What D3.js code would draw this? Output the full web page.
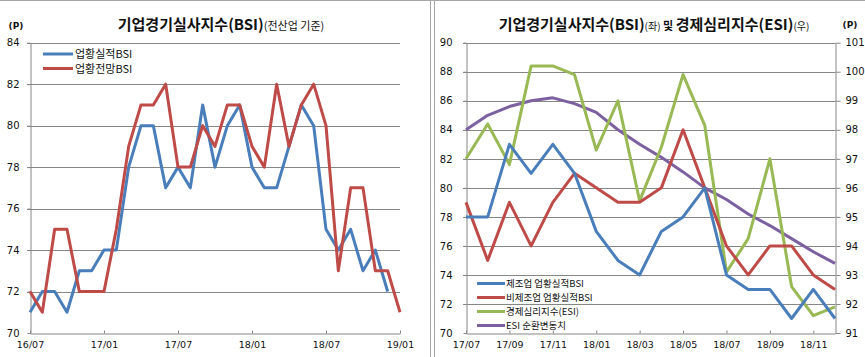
<!DOCTYPE html>
<html><head><meta charset="utf-8">
<script src="https://cdn.jsdelivr.net/npm/d3@7"></script>
<style>
html,body{margin:0;padding:0;background:#fff;}
svg{display:block;}
text{font-family:"DejaVu Sans",sans-serif;fill:#111;}
.kr{font-family:"Noto Sans CJK KR","Noto Sans",sans-serif;}
</style></head>
<body>
<svg id="c" width="865" height="357"></svg>
<script>
// ---------- Left chart data (monthly, 16/07 .. 19/01) ----------
const leftMonths = ["16/07","16/08","16/09","16/10","16/11","16/12","17/01","17/02","17/03","17/04","17/05","17/06","17/07","17/08","17/09","17/10","17/11","17/12","18/01","18/02","18/03","18/04","18/05","18/06","18/07","18/08","18/09","18/10","18/11","18/12","19/01"];
const bsiActual   = [71,72,72,71,73,73,74,74,78,80,80,77,78,77,81,78,80,81,78,77,77,79,81,80,75,74,75,73,74,72];
const bsiOutlook  = [72,71,75,75,72,72,72,75,79,81,81,82,78,78,80,79,81,81,79,78,82,79,81,82,80,73,77,77,73,73,71];
const leftTickLabels = ["16/07","17/01","17/07","18/01","18/07","19/01"];
const leftYTicks = [70,72,74,76,78,80,82,84];

// ---------- Right chart data (monthly, 17/07 .. 18/12) ----------
const rightMonths = ["17/07","17/08","17/09","17/10","17/11","17/12","18/01","18/02","18/03","18/04","18/05","18/06","18/07","18/08","18/09","18/10","18/11","18/12"];
const mfgBSI    = [78,78,83,81,83,81,77,75,74,77,78,80,74,73,73,71,73,71];
const nonMfgBSI = [79,75,79,76,79,81,80,79,79,80,84,80,76,74,76,76,74,73];
const esi       = [97.0,98.2,96.8,100.2,100.2,99.9,97.3,99.0,95.55,97.4,99.9,98.15,93.1,94.25,97.0,92.6,91.6,91.9];
const esiCycle  = [98.0,98.5,98.8,99.0,99.1,98.9,98.6,98.0,97.5,97.05,96.55,96.0,95.6,95.1,94.7,94.25,93.8,93.4];
const rightTickLabels = ["17/07","17/09","17/11","18/01","18/03","18/05","18/07","18/09","18/11"];
const rightYTicks = [70,72,74,76,78,80,82,84,86,88,90];
const rightY2Ticks = [91,92,93,94,95,96,97,98,99,100,101];

const C = {blue:"#4A7EBB", red:"#BE4B48", green:"#98B954", purple:"#7D60A0", grid:"#868686", frame:"#a6a6a6"};

const svg = d3.select("#c");

// panel frames
svg.append("line").attr("x1",0).attr("x2",865).attr("y1",0.5).attr("y2",0.5).attr("stroke",C.frame);
svg.append("line").attr("x1",430.5).attr("x2",430.5).attr("y1",0).attr("y2",357).attr("stroke",C.frame);
svg.append("line").attr("x1",434.5).attr("x2",434.5).attr("y1",0).attr("y2",357).attr("stroke",C.frame);

// ================= LEFT CHART =================
{
  const x = d3.scaleLinear().domain([0, leftMonths.length-1]).range([30,400]);
  const y = d3.scaleLinear().domain([70,84]).range([333,42.7]);
  const g = svg.append("g");
  g.selectAll("line.grid").data(leftYTicks.filter(v=>v>70)).join("line")
    .attr("x1",27).attr("x2",400)
    .attr("y1",d=>Math.round(y(d))+0.5).attr("y2",d=>Math.round(y(d))+0.5)
    .attr("stroke",C.grid);
  const ya = g.append("g").attr("transform","translate(30.5,0)")
    .call(d3.axisLeft(y).tickValues(leftYTicks).tickSize(3).tickSizeOuter(0).tickPadding(8));
  ya.select(".domain").attr("stroke",C.grid);
  ya.selectAll(".tick line").attr("stroke",C.grid);
  ya.selectAll(".tick text").attr("font-size",10).attr("font-family","DejaVu Sans").attr("fill","#111");
  const tickIdx = leftTickLabels.map(l=>leftMonths.indexOf(l));
  const xa = g.append("g").attr("transform","translate(0,333.5)")
    .call(d3.axisBottom(x).tickValues(tickIdx).tickFormat(i=>leftMonths[i]).tickSize(-3).tickSizeOuter(0).tickPadding(8));
  xa.select(".domain").attr("stroke",C.grid);
  xa.selectAll(".tick line").attr("stroke",C.grid);
  xa.selectAll(".tick text").attr("font-size",9.5).attr("font-family","DejaVu Sans").attr("fill","#111");
  const line = d3.line().x((d,i)=>x(i)).y(d=>y(d));
  g.append("path").datum(bsiActual).attr("d",line).attr("fill","none").attr("stroke",C.blue).attr("stroke-width",3).attr("stroke-linejoin","round");
  g.append("path").datum(bsiOutlook).attr("d",line).attr("fill","none").attr("stroke",C.red).attr("stroke-width",3).attr("stroke-linejoin","round");
  const t = g.append("text").attr("class","kr").attr("x",221).attr("y",30).attr("text-anchor","middle");
  t.append("tspan").attr("font-size",15).attr("font-weight","bold").text("기업경기실사지수(BSI)");
  t.append("tspan").attr("font-size",11).text("(전산업 기준)");
  g.append("text").attr("x",16).attr("y",29).attr("text-anchor","middle").attr("font-size",9).attr("font-weight","bold").text("(P)");
  const leg = [["업황실적BSI",C.blue],["업황전망BSI",C.red]];
  leg.forEach((d,i)=>{
    const yy = 54 + i*14.5;
    g.append("line").attr("x1",43).attr("x2",73).attr("y1",yy).attr("y2",yy).attr("stroke",d[1]).attr("stroke-width",3);
    g.append("text").attr("class","kr").attr("x",75).attr("y",yy+4).attr("font-size",11).text(d[0]);
  });
}

// ================= RIGHT CHART =================
{
  const x = d3.scaleLinear().domain([0, rightMonths.length-1]).range([466,835]);
  const y = d3.scaleLinear().domain([70,90]).range([333,42.7]);
  const y2 = d3.scaleLinear().domain([91,101]).range([333,42.7]);
  const g = svg.append("g");
  g.selectAll("line.grid").data(rightYTicks.filter(v=>v>70)).join("line")
    .attr("x1",463).attr("x2",835)
    .attr("y1",d=>Math.round(y(d))+0.5).attr("y2",d=>Math.round(y(d))+0.5)
    .attr("stroke",C.grid);
  const ya = g.append("g").attr("transform","translate(466.5,0)")
    .call(d3.axisLeft(y).tickValues(rightYTicks).tickSize(3).tickSizeOuter(0).tickPadding(11));
  ya.select(".domain").attr("stroke",C.grid);
  ya.selectAll(".tick line").attr("stroke",C.grid);
  ya.selectAll(".tick text").attr("font-size",10).attr("font-family","DejaVu Sans").attr("fill","#111");
  const yb = g.append("g").attr("transform","translate(835.5,0)")
    .call(d3.axisRight(y2).tickValues(rightY2Ticks).tickSize(5).tickSizeOuter(0).tickPadding(5));
  yb.select(".domain").attr("stroke",C.grid);
  yb.selectAll(".tick line").attr("stroke",C.grid);
  yb.selectAll(".tick text").attr("font-size",10).attr("font-family","DejaVu Sans").attr("fill","#111");
  const tickIdx = rightTickLabels.map(l=>rightMonths.indexOf(l));
  const xa = g.append("g").attr("transform","translate(0,333.5)")
    .call(d3.axisBottom(x).tickValues(tickIdx).tickFormat(i=>rightMonths[i]).tickSize(-3).tickSizeOuter(0).tickPadding(8));
  xa.select(".domain").attr("stroke",C.grid);
  xa.selectAll(".tick line").attr("stroke",C.grid);
  xa.selectAll(".tick text").attr("font-size",9.5).attr("font-family","DejaVu Sans").attr("fill","#111");

  const line1 = d3.line().x((d,i)=>x(i)).y(d=>y(d));
  const line2 = d3.line().x((d,i)=>x(i)).y(d=>y2(d));
  const series = [[esiCycle,line2,C.purple],[esi,line2,C.green],[nonMfgBSI,line1,C.red],[mfgBSI,line1,C.blue]];
  series.forEach(s=>{
    g.append("path").datum(s[0]).attr("d",s[1]).attr("fill","none").attr("stroke",s[2]).attr("stroke-width",3).attr("stroke-linejoin","round");
  });
  const t = g.append("text").attr("class","kr").attr("x",654).attr("y",30).attr("text-anchor","middle");
  t.append("tspan").attr("font-size",15).attr("font-weight","bold").text("기업경기실사지수(BSI)");
  t.append("tspan").attr("font-size",10).text("(좌)");
  t.append("tspan").attr("font-size",11).attr("font-weight","bold").text(" 및 ");
  t.append("tspan").attr("font-size",15).attr("font-weight","bold").text("경제심리지수(ESI)");
  t.append("tspan").attr("font-size",10).text("(우)");
  g.append("text").attr("x",850).attr("y",28).attr("text-anchor","middle").attr("font-size",9).attr("font-weight","bold").text("(P)");
  const leg = [["제조업 업황실적BSI",C.blue],["비제조업 업황실적BSI",C.red],["경제심리지수(ESI)",C.green],["ESI 순환변동치",C.purple]];
  leg.forEach((d,i)=>{
    const yy = 283.5 + i*14;
    g.append("line").attr("x1",477).attr("x2",505).attr("y1",yy).attr("y2",yy).attr("stroke",d[1]).attr("stroke-width",3);
    g.append("text").attr("class","kr").attr("x",506).attr("y",yy+3.5).attr("font-size",9.5).text(d[0]);
  });
}
</script>
</body></html>
